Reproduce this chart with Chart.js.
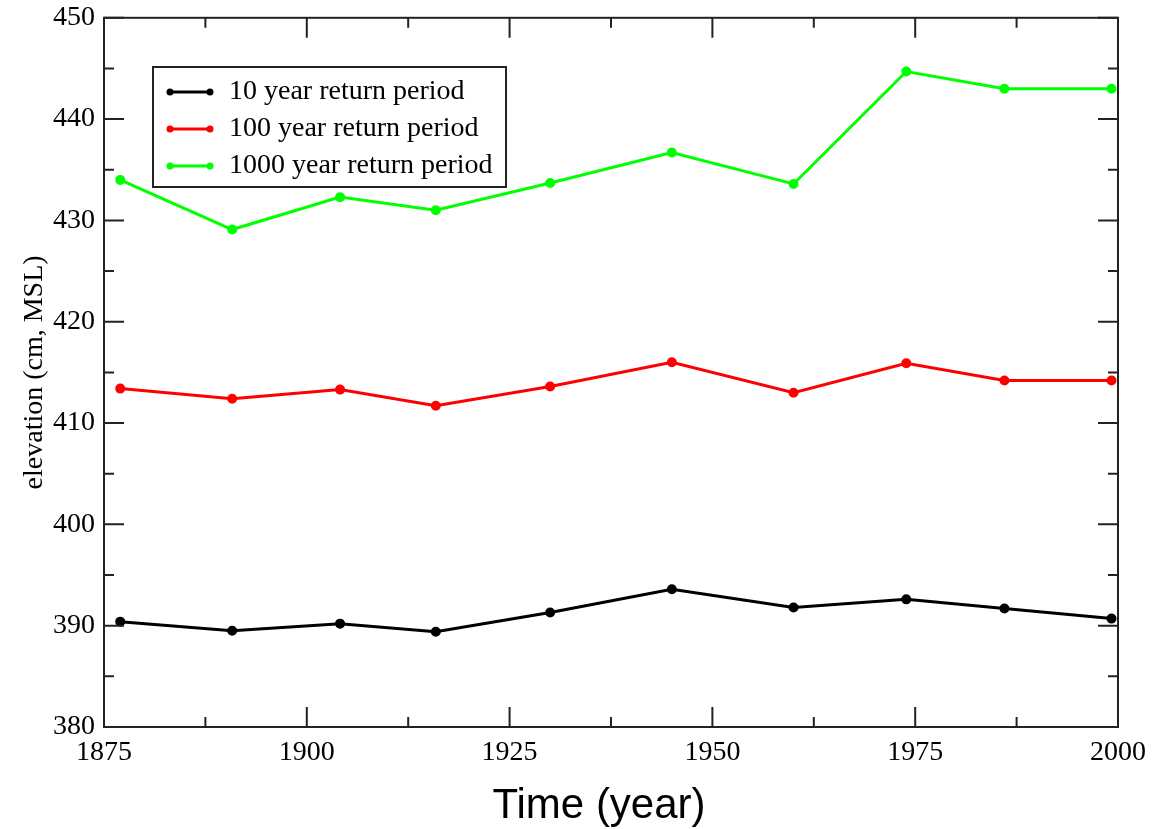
<!DOCTYPE html>
<html>
<head>
<meta charset="utf-8">
<script src="https://cdn.jsdelivr.net/npm/chart.js@4"></script>
<style>
  html, body { margin: 0; padding: 0; background: #fff; }
  #wrap { width: 1165px; height: 829px; }
</style>
</head>
<body>
<div id="wrap"><canvas id="returnChart" width="1165" height="829"></canvas></div>
<script>
const years = [1877, 1890.8, 1904.1, 1915.9, 1930, 1945, 1960, 1973.9, 1986, 1999.2];
const tenYear = [390.4, 389.5, 390.2, 389.4, 391.3, 393.6, 391.8, 392.6, 391.7, 390.7];
const hundredYear = [413.4, 412.4, 413.3, 411.7, 413.6, 416.0, 413.0, 415.9, 414.2, 414.2];
const thousandYear = [434.0, 429.1, 432.3, 431.0, 433.7, 436.7, 433.6, 444.7, 443.0, 443.0];
const seriesLabels = ["10 year return period", "100 year return period", "1000 year return period"];
const seriesColors = ["#000000", "#ff0000", "#00ff00"];
const xTicks = [1875, 1900, 1925, 1950, 1975, 2000];
const yTicks = [380, 390, 400, 410, 420, 430, 440, 450];

const serif = "'Liberation Serif', 'DejaVu Serif', serif";
const sans = "'Liberation Sans', Arial, sans-serif";

const toPoints = (vals) => vals.map((v, i) => ({ x: years[i], y: v }));

const makeSet = (label, vals, color) => ({
  label: label,
  data: toPoints(vals),
  borderColor: color,
  backgroundColor: color,
  borderWidth: 3,
  pointRadius: 3.5,
  pointHoverRadius: 3.5,
  pointStyle: "circle",
  tension: 0,
});

// frame, inward ticks, axis titles and legend box
const framePlugin = {
  id: "frame",
  afterDraw(chart) {
    const ctx = chart.ctx;
    const { left, right, top, bottom } = chart.chartArea;
    const xs = chart.scales.x;
    const ys = chart.scales.y;
    ctx.save();
    ctx.strokeStyle = "#222";
    ctx.lineWidth = 2;
    ctx.strokeRect(left, top, right - left, bottom - top);

    ctx.beginPath();
    for (let v = 1875; v <= 2000; v += 12.5) {
      const px = xs.getPixelForValue(v);
      const len = (v - 1875) % 25 === 0 ? 20 : 10;
      ctx.moveTo(px, bottom); ctx.lineTo(px, bottom - len);
      ctx.moveTo(px, top); ctx.lineTo(px, top + len);
    }
    for (let v = 380; v <= 450; v += 5) {
      const py = ys.getPixelForValue(v);
      const len = v % 10 === 0 ? 20 : 10;
      ctx.moveTo(left, py); ctx.lineTo(left + len, py);
      ctx.moveTo(right, py); ctx.lineTo(right - len, py);
    }
    ctx.stroke();

    ctx.fillStyle = "#000";
    ctx.textAlign = "center";
    ctx.textBaseline = "middle";

    // y axis title
    ctx.save();
    ctx.translate(35, (top + bottom) / 2);
    ctx.rotate(-Math.PI / 2);
    ctx.font = "28px " + serif;
    ctx.fillText("elevation (cm, MSL)", 0, 0);
    ctx.restore();

    // x axis title
    ctx.font = "42px " + sans;
    ctx.textBaseline = "alphabetic";
    ctx.fillText("Time (year)", 599, 818);

    // legend
    const bx = 153, by = 67, bw = 353, bh = 120;
    ctx.fillStyle = "#fff";
    ctx.fillRect(bx, by, bw, bh);
    ctx.strokeStyle = "#222";
    ctx.lineWidth = 2;
    ctx.strokeRect(bx, by, bw, bh);
    ctx.font = "28px " + serif;
    ctx.textAlign = "left";
    ctx.textBaseline = "middle";
    chart.data.datasets.forEach((ds, i) => {
      const ly = 92 + i * 37;
      ctx.strokeStyle = ds.borderColor;
      ctx.lineWidth = 3;
      ctx.beginPath();
      ctx.moveTo(170, ly); ctx.lineTo(210, ly);
      ctx.stroke();
      ctx.fillStyle = ds.borderColor;
      [170, 210].forEach((px) => {
        ctx.beginPath();
        ctx.arc(px, ly, 3.5, 0, Math.PI * 2);
        ctx.fill();
      });
      ctx.fillStyle = "#000";
      ctx.fillText(ds.label, 229, ly);
    });
    ctx.restore();
  },
};

new Chart(document.getElementById("returnChart"), {
  type: "line",
  data: {
    datasets: [
      makeSet(seriesLabels[0], tenYear, seriesColors[0]),
      makeSet(seriesLabels[1], hundredYear, seriesColors[1]),
      makeSet(seriesLabels[2], thousandYear, seriesColors[2]),
    ],
  },
  options: {
    responsive: false,
    animation: false,
    layout: { padding: { left: 0, right: 47, top: 17, bottom: 0 } },
    plugins: { legend: { display: false }, tooltip: { enabled: false } },
    scales: {
      x: {
        type: "linear",
        min: 1875,
        max: 2000,
        afterBuildTicks: (scale) => { scale.ticks = xTicks.map((v) => ({ value: v })); },
        afterFit: (scale) => { scale.height = 102; },
        grid: { display: false },
        border: { display: false },
        ticks: {
          color: "#000",
          font: { family: serif, size: 28 },
          padding: 1,
          maxRotation: 0,
          callback: (v) => String(v),
        },
      },
      y: {
        min: 380,
        max: 450,
        afterBuildTicks: (scale) => { scale.ticks = yTicks.map((v) => ({ value: v })); },
        afterFit: (scale) => { scale.width = 104; },
        grid: { display: false },
        border: { display: false },
        ticks: { color: "#000", font: { family: serif, size: 28 }, padding: 1 },
      },
    },
  },
  plugins: [framePlugin],
});
</script>
</body>
</html>
